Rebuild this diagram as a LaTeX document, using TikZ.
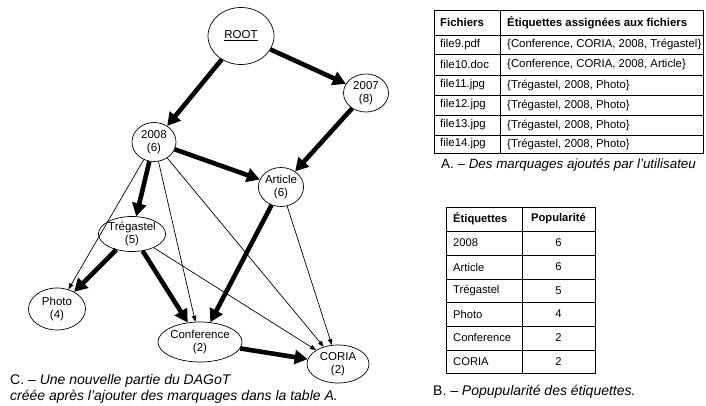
\documentclass[tikz,border=0pt]{standalone}
\usepackage{fontspec}
\setmainfont{Liberation Sans}
\usetikzlibrary{arrows.meta,shapes.geometric}
\begin{document}
\begin{tikzpicture}[x=1pt,y=-1pt,
  tag/.style={draw,ellipse,inner sep=0pt,line width=0.7pt,font=\fontsize{11.5}{12.5}\selectfont,align=center},
  thick arrow/.style={line width=4.6pt,-{Triangle[length=13pt,width=14pt]}},
  thin arrow/.style={line width=0.7pt,-{Triangle[length=6pt,width=4.5pt]}},
  cell/.style={inner sep=0pt,font=\fontsize{11.4}{13}\selectfont,anchor=west},
  cellb/.style={inner sep=0pt,font=\fontsize{11.2}{13}\selectfont},
  captext/.style={inner sep=0pt,font=\fontsize{14}{16.5}\selectfont,anchor=west,align=left},
  rule/.style={line width=0.9pt}]
\useasboundingbox (0,0) rectangle (706,406);

% graph nodes
\node[tag,minimum width=66pt,minimum height=57pt] (root) at (241,36) {\underline{ROOT}};
\node[tag,minimum width=45pt,minimum height=38pt] (n2007) at (366,93) {2007\\(8)};
\node[tag,minimum width=44pt,minimum height=39pt] (n2008) at (154,142) {2008\\(6)};
\node[tag,minimum width=39pt,minimum height=39pt] (article) at (281,187) {Article\\(6)};
\node[tag,minimum width=63pt,minimum height=35pt] (treg) at (132,234) {Trégastel\\(5)};
\node[tag,minimum width=57pt,minimum height=42pt] (photo) at (57,309) {Photo\\(4)};
\node[tag,minimum width=61pt,minimum height=40pt] (conf) at (200,342) {Conference\\(2)};
\node[tag,minimum width=62pt,minimum height=38pt] (coria) at (338,364) {CORIA\\(2)};

% thin arrows
\draw[thin arrow] (n2008) -- (photo);
\draw[thin arrow] (n2008) -- (conf);
\draw[thin arrow] (n2008) -- (coria);
\draw[thin arrow] (treg) -- (coria);
\draw[thin arrow] (article) -- (coria);

% thick arrows
\draw[thick arrow] (root) -- (n2008);
\draw[thick arrow] (root) -- (n2007);
\draw[thick arrow] (n2007) -- (article);
\draw[thick arrow] (n2008) -- (article);
\draw[thick arrow] (n2008) -- (treg);
\draw[thick arrow] (treg) -- (photo);
\draw[thick arrow] (treg) -- (conf);
\draw[thick arrow] (article) -- (conf);
\draw[thick arrow] (conf) -- (coria);

\node[captext] (capC) at (10,389) {C. – \textit{Une nouvelle partie du DAGoT}\\\textit{créée après l’ajouter des marquages dans la table A.}};

% Table A
\draw[rule] (434,10) rectangle (703,153);
\draw[rule] (500,10) -- (500,153);
\foreach \y in {35,54,75,95,115,135} \draw[rule] (434,\y) -- (703,\y);
\node[cell,font=\fontsize{11.4}{13}\selectfont\bfseries] (ha1) at (440,22.5) {Fichiers};
\node[cell,font=\fontsize{11.4}{13}\selectfont\bfseries] (ha2) at (507,22.5) {Étiquettes assignées aux fichiers};
\node[cell] (a1) at (440,44.5) {file9.pdf};
\node[cell] (b1) at (507,44.5) {\{Conference, CORIA, 2008, Trégastel\}};
\node[cell] (a2) at (440,64.5) {file10.doc};
\node[cell] (b2) at (507,64.5) {\{Conference, CORIA, 2008, Article\}};
\node[cell] (a3) at (440,85) {file11.jpg};
\node[cell] (b3) at (507,85) {\{Trégastel, 2008, Photo\}};
\node[cell] (a4) at (440,105) {file12.jpg};
\node[cell] (b4) at (507,105) {\{Trégastel, 2008, Photo\}};
\node[cell] (a5) at (440,125) {file13.jpg};
\node[cell] (b5) at (507,125) {\{Trégastel, 2008, Photo\}};
\node[cell] (a6) at (440,144) {file14.jpg};
\node[cell] (b6) at (507,144) {\{Trégastel, 2008, Photo\}};
\node[captext,font=\fontsize{13.4}{16}\selectfont] (capA) at (441,165) {A. – \textit{Des marquages ajoutés par l’utilisateu}};

% Table B
\draw[rule] (446,207) rectangle (595,373);
\draw[rule] (522,207) -- (522,373);
\foreach \y in {231,255,279,302,326,350} \draw[rule] (446,\y) -- (595,\y);
\node[cellb,anchor=west,font=\fontsize{11.2}{13}\selectfont\bfseries] (hb1) at (453,219) {Étiquettes};
\node[cellb,font=\fontsize{11.2}{13}\selectfont\bfseries] (hb2) at (558.5,219) {Popularité};
\node[cellb,anchor=west] (c1) at (453,243) {2008};
\node[cellb] (d1) at (558.5,243) {6};
\node[cellb,anchor=west] (c2) at (453,267) {Article};
\node[cellb] (d2) at (558.5,267) {6};
\node[cellb,anchor=west] (c3) at (453,290.5) {Trégastel};
\node[cellb] (d3) at (558.5,290.5) {5};
\node[cellb,anchor=west] (c4) at (453,314) {Photo};
\node[cellb] (d4) at (558.5,314) {4};
\node[cellb,anchor=west] (c5) at (453,338) {Conference};
\node[cellb] (d5) at (558.5,338) {2};
\node[cellb,anchor=west] (c6) at (453,361.5) {CORIA};
\node[cellb] (d6) at (558.5,361.5) {2};
\node[captext] (capB) at (433,392) {B. – \textit{Popupularité des étiquettes.}};
\end{tikzpicture}
\end{document}
